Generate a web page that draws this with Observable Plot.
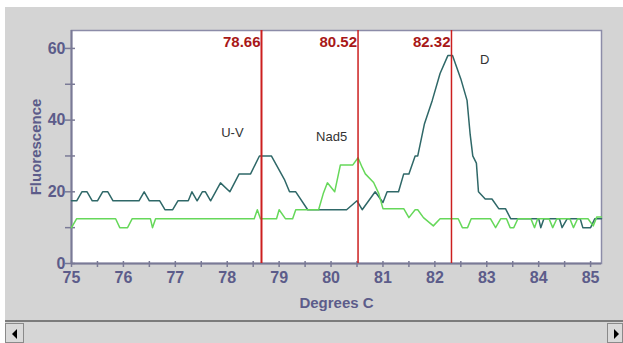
<!DOCTYPE html>
<html>
<head>
<meta charset="utf-8">
<script src="https://cdn.jsdelivr.net/npm/d3@7"></script>
<script src="https://cdn.jsdelivr.net/npm/@observablehq/plot@0.6"></script>
<style>
  body { margin: 0; background: #ffffff; }
  #wrap { position: relative; width: 623px; height: 343px; overflow: hidden; font-family: "Liberation Sans", Arial, sans-serif; }
  #panel { position: absolute; left: 5px; top: 7px; width: 618px; height: 314px; background: #d4d4d4; }
  #chart { position: absolute; left: 0; top: 0; }
  #scroll { position: absolute; left: 5px; top: 320px; width: 618px; height: 23px; background: #d6d6d6; border-top: 2px solid #7c7c7c; box-sizing: border-box; }
  .btn { position: absolute; top: 1px; width: 19px; height: 20px; border: 1px solid #8a8a8a; background: #dadada; box-sizing: border-box; }
  #bl { left: 0; }
  #br { right: 0; width: 16px; }
  .tri { position: absolute; top: 5px; width: 0; height: 0; border-top: 5px solid transparent; border-bottom: 5px solid transparent; }
  #bl .tri { left: 6px; border-right: 5px solid #000; }
  #br .tri { left: 6px; border-left: 5px solid #000; }
</style>
</head>
<body>
<div id="wrap">
  <div id="panel"></div>
  <div id="chart"></div>
  <div id="scroll">
    <div class="btn" id="bl"><div class="tri"></div></div>
    <div class="btn" id="br"><div class="tri"></div></div>
  </div>
</div>
<script>
// Dark (teal) melt curve: temperature (°C) and fluorescence
const darkT = [75.0, 75.1, 75.2, 75.3, 75.4, 75.5, 75.6, 75.7, 75.8, 76.3, 76.4, 76.5, 76.7, 76.8, 76.95, 77.05, 77.25, 77.32, 77.42, 77.52, 77.58, 77.68, 77.87, 78.05, 78.23, 78.45, 78.62, 78.85, 79.1, 79.2, 79.32, 79.55, 80.3, 80.5, 80.6, 80.85, 81.0, 81.08, 81.3, 81.4, 81.5, 81.62, 81.67, 81.8, 81.95, 82.1, 82.25, 82.34, 82.5, 82.62, 82.68, 82.73, 82.8, 82.84, 82.97, 83.1, 83.23, 83.36, 83.46, 84.0, 84.04, 84.1, 84.4, 84.45, 84.55, 84.8, 84.85, 85.0, 85.08, 85.21];
const darkF = [17.5, 17.5, 20, 20, 17.5, 17.5, 20, 20, 17.5, 17.5, 20, 17.5, 17.5, 15, 15, 17.5, 17.5, 20, 17.5, 20, 20, 17.5, 22.5, 20, 25, 25, 30, 30, 23.5, 20, 20, 15, 15, 17.5, 15, 20, 17, 20, 20, 25, 25, 30, 30, 39, 45.5, 53, 58, 58, 51.5, 45.5, 36, 30, 28, 20, 18, 18, 15.3, 15.3, 12.5, 12.5, 10, 12.5, 12.5, 10, 12.5, 12.5, 10, 10, 12.5, 12.5];

// Green melt curve
const greenT = [75.0, 75.1, 75.85, 75.93, 76.08, 76.17, 76.52, 76.56, 76.62, 78.52, 78.58, 78.64, 78.95, 79.0, 79.12, 79.26, 79.32, 79.76, 79.85, 79.93, 80.07, 80.18, 80.42, 80.52, 80.6, 80.66, 80.82, 80.92, 81.0, 81.4, 81.5, 81.62, 81.67, 81.78, 81.97, 82.1, 82.45, 82.53, 82.63, 82.7, 83.07, 83.17, 83.27, 83.38, 83.45, 83.52, 83.6, 83.85, 83.92, 83.98, 84.2, 84.27, 84.35, 84.6, 84.67, 84.75, 84.95, 85.05, 85.12, 85.21];
const greenF = [10, 12.5, 12.5, 10, 10, 12.5, 12.5, 10, 12.5, 12.5, 15, 12.5, 12.5, 15, 12.5, 12.5, 15, 15, 19.5, 22.5, 20, 27.5, 27.5, 29.5, 26.8, 25, 22.6, 19.5, 15.3, 15.3, 12.8, 15, 15, 12.8, 10.5, 12.5, 12.5, 10, 10, 12.5, 12.5, 10, 12.5, 12.5, 10, 10, 12.5, 12.5, 10, 12.5, 12.5, 10, 12.5, 12.5, 10, 12.5, 12.5, 10.5, 13, 13];

// Melting-point markers
const markerT = [78.66, 80.52, 82.32];
const markerLabels = ["78.66", "80.52", "82.32"];

// Peak annotations
const peakNames = ["U-V", "Nad5", "D"];
const peakT = [78.10, 80.01, 82.96];
const peakF = [36.4, 35.2, 56.8];

// Axis ticks
const xMinorTicks = d3.range(75, 85.01, 0.5);
const xLabelTicks = [75, 76, 77, 78, 79, 80, 81, 82, 83, 84, 85];
const yMinorTicks = [0, 10, 20, 30, 40, 50, 60];
const yLabelTicks = [0, 20, 40, 60];

const dark = darkT.map((t, i) => ({t, f: darkF[i]}));
const green = greenT.map((t, i) => ({t, f: greenF[i]}));
const markers = markerT.map((t, i) => ({t, label: markerLabels[i], w: i === 0 ? 2 : 1.5}));
const peaks = peakNames.map((n, i) => ({n, t: peakT[i], f: peakF[i]}));

const axisColor = "#5c5c8a";
const font = "Liberation Sans, Arial, sans-serif";

const chart = Plot.plot({
  width: 623,
  height: 343,
  marginLeft: 71,
  marginRight: 22,
  marginTop: 30,
  marginBottom: 80,
  style: {background: "transparent", fontFamily: font, overflow: "visible"},
  x: {domain: [75, 85.21]},
  y: {domain: [0, 65]},
  marks: [
    Plot.frame({fill: "white", stroke: "#8c8ca8", strokeWidth: 1.5}),
    Plot.ruleX([75], {stroke: "#7a7a96", strokeWidth: 2}),
    Plot.ruleY([0], {stroke: "#7a7a96", strokeWidth: 2}),
    Plot.axisX({ticks: xMinorTicks, tickSize: 6, insetBottom: 2, tickFormat: () => "", label: null, stroke: "#7a7a96", strokeWidth: 1.5}),
    Plot.axisX({ticks: xLabelTicks, tickSize: 0, tickPadding: 8, tickFormat: d => String(d), label: null, fill: axisColor, fontSize: 16, fontWeight: "bold"}),
    Plot.axisY({ticks: yMinorTicks, tickSize: 10, insetLeft: 4, tickFormat: () => "", label: null, stroke: "#7a7a96", strokeWidth: 1.5}),
    Plot.axisY({ticks: yLabelTicks, tickSize: 0, tickPadding: 6, tickFormat: d => String(d), label: null, fill: axisColor, fontSize: 16, fontWeight: "bold"}),
    Plot.line(dark, {x: "t", y: "f", stroke: "#2f6868", strokeWidth: 1.5}),
    Plot.line(green, {x: "t", y: "f", stroke: "#66d85a", strokeWidth: 1.5}),
    Plot.ruleX(markers, {x: "t", stroke: "#cc1f1f", strokeWidth: "w"}),
    Plot.text(markers, {x: "t", frameAnchor: "top", text: "label", textAnchor: "end", lineAnchor: "top", dx: -1, dy: 6, fill: "#a81818", fontSize: 15, fontWeight: "bold"}),
    Plot.text(peaks, {x: "t", y: "f", text: "n", textAnchor: "middle", lineAnchor: "middle", fill: "#333333", fontSize: 13}),
    Plot.text(["Fluorescence"], {frameAnchor: "left", rotate: -90, dx: -35, lineAnchor: "middle", textAnchor: "middle", fill: axisColor, fontSize: 15, fontWeight: "bold"}),
    Plot.text(["Degrees C"], {frameAnchor: "bottom", dy: 34, lineAnchor: "top", textAnchor: "middle", fill: axisColor, fontSize: 15, fontWeight: "bold"})
  ]
});
document.getElementById("chart").appendChild(chart);
</script>
</body>
</html>
